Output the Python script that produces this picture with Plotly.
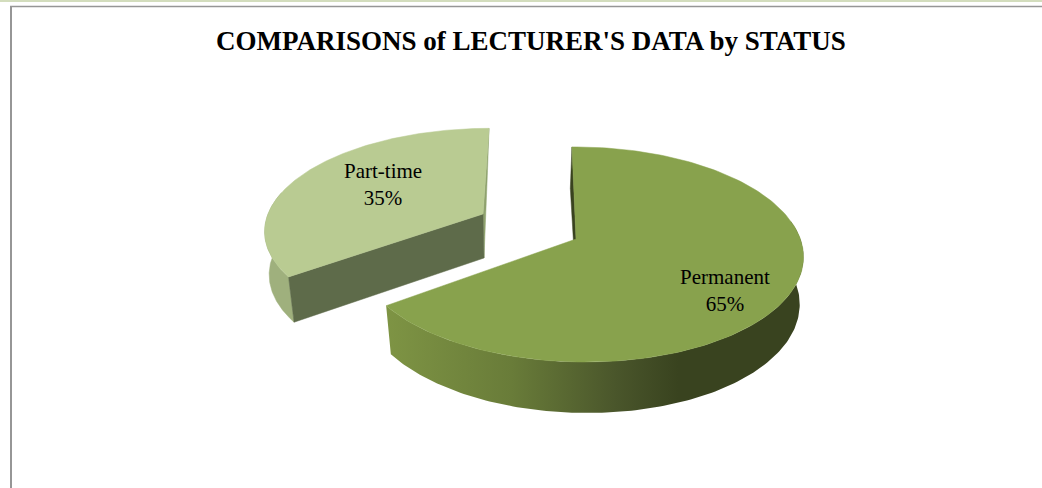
import numpy as np
import plotly.graph_objects as go

TITLE = "COMPARISONS of LECTURER'S DATA by STATUS"
categories = ["Permanent", "Part-time"]
values = [65, 35]

FONT = "Liberation Serif"
TILT = 0.144

# projection of each slice's two rims onto the canvas:
# apex x, apex y, half width, depth scale, shear, side perspective
PERM_TOP = (576, 239, 221, 105.3, -4.6, 0.015)
PERM_BOT = (576, 284.5, 217, 110, -6.5, 0.015)
PART_TOP = (483, 214, 215, 98, 6.9, 0)
PART_BOT = (484, 258, 212, 100, 4, 0)


def arc(p, a0, a1, n=160):
    t = np.radians(np.linspace(a0, a1, n))
    u, v = np.sin(t), np.cos(t)
    w = 1 + TILT * v - p[5] * u
    return p[0] + (p[2] * u + p[4] * v) / w, p[1] - p[3] * v / w


def sector(p, a0, a1):
    x, y = arc(p, a0, a1)
    return np.r_[p[0], x, p[0]], np.r_[p[1], y, p[1]]


def band(top, bot, a0, a1):
    xt, yt = arc(top, a0, a1)
    xb, yb = arc(bot, a0, a1)
    return np.r_[xt, xb[::-1], xt[0]], np.r_[yt, yb[::-1], yt[0]]


def quad(p, q, a):
    xp, yp = arc(p, a, a, 1)
    xq, yq = arc(q, a, a, 1)
    return [p[0], xp[0], xq[0], q[0], p[0]], [p[1], yp[0], yq[0], q[1], p[1]]


def poly(xy, color=None, gradient=None):
    kw = dict(x=xy[0], y=xy[1], mode="lines", fill="toself", hoverinfo="skip", showlegend=False)
    if gradient:
        kw["fillgradient"] = dict(type="horizontal", colorscale=gradient)
        kw["line"] = dict(width=0)
    else:
        kw["fillcolor"] = color
        kw["line"] = dict(color=color, width=0.5)
    return go.Scatter(**kw)


total = sum(values)
sweep = [v / total * 360 for v in values]
perm_end = sweep[0]

fig = go.Figure()

# Part-time slice (from the end of Permanent round to 12 o'clock)
fig.add_trace(poly(band(PART_TOP, PART_BOT, perm_end, 283), "#9FB07D"))
fig.add_trace(poly(quad(PART_TOP, PART_BOT, 360), "#8FA26E"))
fig.add_trace(poly(quad(PART_TOP, PART_BOT, perm_end), "#5E6B4A"))
fig.add_trace(poly(sector(PART_TOP, perm_end, 360), "#B9CB92"))

# Permanent slice
fig.add_trace(poly(quad(PERM_TOP, PERM_BOT, 0), "#39431F"))
fig.add_trace(poly(band(PERM_TOP, PERM_BOT, 80, perm_end), gradient=[
    [0, "#7E9444"], [0.30, "#697C39"], [0.55, "#4A562B"],
    [0.70, "#39431F"], [1, "#39431F"]]))
fig.add_trace(poly(sector(PERM_TOP, 0, perm_end), "#88A24D"))

fig.update_layout(
    width=1042, height=488, margin=dict(l=0, r=0, t=0, b=0),
    paper_bgcolor="white", plot_bgcolor="white", showlegend=False,
    xaxis=dict(range=[0, 1042], visible=False, fixedrange=True),
    yaxis=dict(range=[488, 0], visible=False, fixedrange=True),
    shapes=[
        dict(type="rect", x0=0, x1=1042, y0=0, y1=2, fillcolor="#D3DDBD", line_width=0, layer="below"),
        dict(type="line", x0=10, x1=1042, y0=6.5, y1=6.5, line=dict(color="#969696", width=1.5), layer="below"),
        dict(type="line", x0=11, x1=11, y0=6, y1=488, line=dict(color="#969696", width=2), layer="below"),
    ],
)

fig.add_annotation(x=530.5, y=41, text=f"<b>{TITLE}</b>", showarrow=False,
                   font=dict(family=FONT, size=27, color="black"))
label_pos = {"Permanent": (725, 290), "Part-time": (383, 184)}
for c, v in zip(categories, values):
    x, y = label_pos[c]
    fig.add_annotation(x=x, y=y, text=f"{c}<br>{round(v / total * 100)}%", showarrow=False,
                       font=dict(family=FONT, size=21, color="black"), align="center")

fig.write_html(
    "out.html",
    config=dict(displayModeBar=False),
    post_script="document.body.style.margin='0';document.documentElement.style.overflow='hidden';",
)
